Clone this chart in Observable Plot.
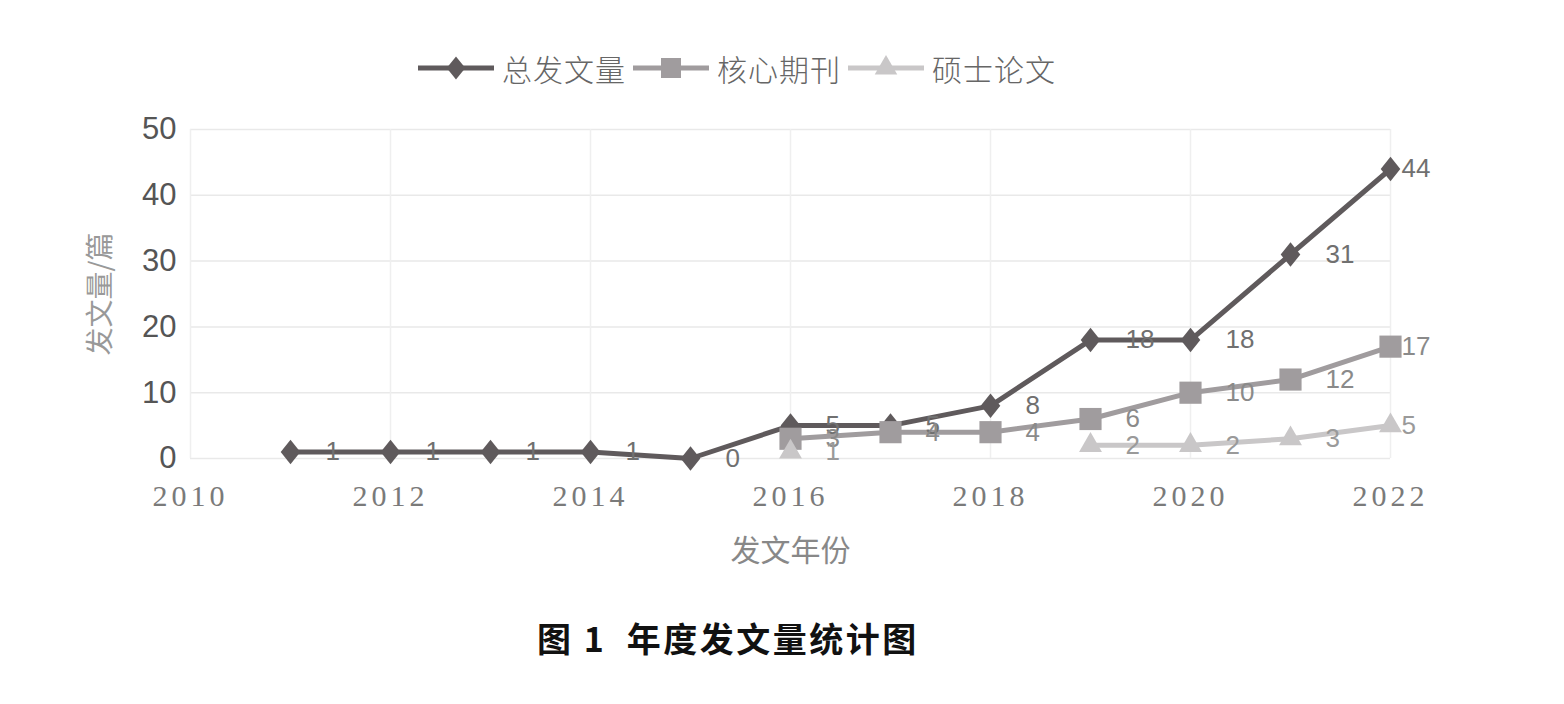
<!DOCTYPE html>
<html>
<head>
<meta charset="utf-8">
<script src="https://cdn.jsdelivr.net/npm/d3@7"></script>
<script src="https://cdn.jsdelivr.net/npm/@observablehq/plot@0.6"></script>
<style>
  html, body { margin: 0; padding: 0; background: #fff; }
  body { width: 1564px; height: 704px; position: relative; overflow: hidden; }
  #legend { position: absolute; top: 50px; left: 418px; display: flex; align-items: center; height: 36px;
            font-family: "Noto Sans CJK SC", sans-serif; font-weight: 300; font-size: 30px; color: #666; }
  #legend .item { display: flex; align-items: center; }
  #legend span { margin: 0 7px 0 8px; letter-spacing: 1px; line-height: 36px; }
  #chart { position: absolute; top: 100px; left: 0; }
  #caption { position: absolute; top: 614px; left: 537px; font-family: "Noto Sans CJK SC", sans-serif;
             font-weight: 700; font-size: 34px; letter-spacing: 2.5px; color: #111; white-space: pre; line-height: 48px; }
  g[aria-label="x-axis tick label"] text { letter-spacing: 4px; }
  g[aria-label="x-axis label"] text { font-size: 30px; font-family: "Noto Sans CJK SC", sans-serif; fill: #888; }
  g[aria-label="y-axis label"] text { font-size: 28px; font-family: "Noto Sans CJK SC", sans-serif; fill: #999; }
</style>
</head>
<body>
<div id="legend"></div>
<div id="chart"></div>
<div id="caption"></div>
<script>
// ---- data ----
const seriesNames = ["总发文量", "核心期刊", "硕士论文"];
const totalYears = [2011, 2012, 2013, 2014, 2015, 2016, 2017, 2018, 2019, 2020, 2021, 2022];
const totalValues = [1, 1, 1, 1, 0, 5, 5, 8, 18, 18, 31, 44];
const coreYears = [2016, 2017, 2018, 2019, 2020, 2021, 2022];
const coreValues = [3, 4, 4, 6, 10, 12, 17];
const masterYears = [2016, 2017, 2018, 2019, 2020, 2021, 2022];
const masterValues = [1, null, null, 2, 2, 3, 5];
const xTicks = [2010, 2012, 2014, 2016, 2018, 2020, 2022];
const yTicks = [0, 10, 20, 30, 40, 50];
const xLabel = "发文年份";
const yLabel = "发文量/篇";
const captionText = "图 1  年度发文量统计图";

// ---- styles ----
const colors = ["#5f5a5c", "#a09c9e", "#c9c7c8"];
const labelColors = ["#707070", "#8a8a8a", "#9a9a9a"];
const tallDiamond = {
  draw(context, size) {
    const h = Math.sqrt(size) * 0.72, w = h * 0.8;
    context.moveTo(0, -h); context.lineTo(w, 0); context.lineTo(0, h); context.lineTo(-w, 0); context.closePath();
  }
};
const symbols = [tallDiamond, d3.symbolSquare, d3.symbolTriangle];
const radii = [9.6, 12.5, 8.5];

const toRows = (ys, vs) => ys.map((y, i) => ({year: y, value: vs[i]}));
const series = [toRows(totalYears, totalValues), toRows(coreYears, coreValues), toRows(masterYears, masterValues)];

const marks = [
  Plot.gridY(yTicks, {stroke: "#e9e9e9", strokeOpacity: 1, strokeWidth: 1.5}),
  Plot.gridX(xTicks, {stroke: "#efefef", strokeOpacity: 1, strokeWidth: 1.5}),
  Plot.axisY({ticks: yTicks, tickSize: 0, tickPadding: 14, fontSize: 31, fill: "#555",
              fontFamily: "Liberation Sans, Arial, sans-serif",
              label: yLabel, labelAnchor: "center", labelArrow: "none", labelOffset: 100}),
  Plot.axisX({ticks: xTicks, tickFormat: d => String(d), tickSize: 0, tickPadding: 26, fontSize: 30,
              fill: "#7a7a7a", fontFamily: "Liberation Serif, Times New Roman, serif",
              label: xLabel, labelAnchor: "center", labelArrow: "none", labelOffset: 102})
];

series.forEach((rows, i) => {
  const defined = rows.filter(d => d.value != null);
  marks.push(Plot.line(rows, {x: "year", y: "value", stroke: colors[i], strokeWidth: 5, curve: "linear"}));
  marks.push(Plot.dot(defined, {x: "year", y: "value", symbol: () => symbols[i], r: radii[i], fill: colors[i], stroke: "none"}));
});
series.forEach((rows, i) => {
  const defined = rows.filter(d => d.value != null);
  const common = {x: "year", y: "value", text: d => String(d.value), fill: labelColors[i], fontSize: 26,
                  fontFamily: "Liberation Sans, Arial, sans-serif", textAnchor: "start"};
  marks.push(Plot.text(defined.filter(d => d.year !== 2022), {...common, dx: 35}));
  marks.push(Plot.text(defined.filter(d => d.year === 2022), {...common, dx: 11}));
});

const chart = Plot.plot({
  width: 1564,
  height: 468,
  marginLeft: 190,
  marginRight: 174,
  marginTop: 29,
  marginBottom: 110,
  x: {domain: [2010, 2022], type: "linear"},
  y: {domain: [0, 50]},
  symbol: {type: "identity"},
  style: {background: "white", overflow: "visible", fontFamily: "Liberation Sans, Arial, sans-serif"},
  marks
});
document.getElementById("chart").appendChild(chart);

// legend
const legend = document.getElementById("legend");
seriesNames.forEach((name, i) => {
  const item = document.createElement("div");
  item.className = "item";
  const svg = d3.create("svg").attr("width", 76).attr("height", 34);
  svg.append("line").attr("x1", 0).attr("x2", 76).attr("y1", 17).attr("y2", 17)
     .attr("stroke", colors[i]).attr("stroke-width", 5);
  const size = [260, 400, 220][i];
  svg.append("path").attr("transform", "translate(38,17)")
     .attr("d", d3.symbol(symbols[i], size)()).attr("fill", colors[i]);
  item.appendChild(svg.node());
  const span = document.createElement("span");
  span.textContent = name;
  item.appendChild(span);
  legend.appendChild(item);
});
document.getElementById("caption").textContent = captionText;
</script>
</body>
</html>
